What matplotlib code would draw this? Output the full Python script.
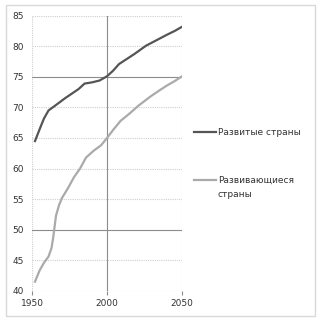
import matplotlib
matplotlib.use("Agg")
from matplotlib import pyplot as plt
from matplotlib.lines import Line2D
from matplotlib.patches import Rectangle

# Life expectancy
years_dev = [1952, 1956, 1958, 1961, 1966, 1972, 1978, 1981, 1985, 1990, 1995, 2000,
             2004, 2008, 2013, 2018, 2026, 2033, 2040, 2045, 2050]
developed = [64.5, 67.0, 68.2, 69.5, 70.4, 71.5, 72.5, 73.0, 73.9, 74.1, 74.4, 75.1,
             76.0, 77.1, 77.9, 78.7, 80.1, 81.0, 81.9, 82.5, 83.2]

years_dvg = [1952, 1955, 1958, 1961, 1963, 1964, 1966, 1968, 1970, 1974, 1978, 1982,
             1986, 1991, 1996, 2000, 2004, 2009, 2015, 2021, 2029, 2035, 2040, 2045, 2050]
developing = [41.5, 43.3, 44.6, 45.6, 47.0, 48.5, 52.3, 54.0, 55.2, 56.8, 58.6, 60.0,
              61.8, 62.9, 63.8, 65.0, 66.3, 67.8, 69.0, 70.3, 71.8, 72.8, 73.6, 74.3, 75.1]

labels = ["Развитые страны", "Развивающиеся\nстраны"]
colors = ["#555555", "#aaaaaa"]
yticks = [40, 45, 50, 55, 60, 65, 70, 75, 80, 85]
xticks = [1950, 2000, 2050]

fig = plt.figure(figsize=(3.2, 3.21), dpi=100)
fig.patches.append(Rectangle((0.02, 0.017), 0.965, 0.968, transform=fig.transFigure,
                             fill=False, edgecolor="#d9d9d9", linewidth=1.0))
ax = fig.add_axes([0.1, 0.094, 0.469, 0.857])

ax.plot(years_dev, developed, color=colors[0], linewidth=1.6)
ax.plot(years_dvg, developing, color=colors[1], linewidth=1.6)

ax.set_xlim(1950, 2050)
ax.set_ylim(40, 85)
ax.set_xticks(xticks)
ax.set_yticks(yticks)
ax.grid(True, color="#cfcfcf", linestyle=(0, (1, 1)), linewidth=0.8)
for val, line in zip(yticks, ax.get_ygridlines()):
    if val in (50, 75):
        line.set_linestyle("-")
        line.set_color("#8c8c8c")
for val, line in zip(xticks, ax.get_xgridlines()):
    if val == 2000:
        line.set_linestyle("-")
        line.set_color("#8c8c8c")

for s in ax.spines.values():
    s.set_visible(False)
ax.tick_params(axis="y", length=0, pad=6, labelsize=6.5, labelcolor="#333333")
ax.tick_params(axis="x", length=3, color="#8c8c8c", pad=3, labelsize=6.5, labelcolor="#333333")

# legend drawn by hand to match the reference spacing
leg_y = [1 - 132 / 321, 1 - 180 / 321]
for lab, col, y in zip(labels, colors, leg_y):
    fig.lines.append(Line2D([194 / 320, 216 / 320], [y, y], transform=fig.transFigure,
                            color=col, linewidth=1.6))
    fig.text(218 / 320, y + 0.013, lab, fontsize=6.5, color="#333333", va="top",
             linespacing=1.75)

fig.savefig("out.png", dpi=100)
